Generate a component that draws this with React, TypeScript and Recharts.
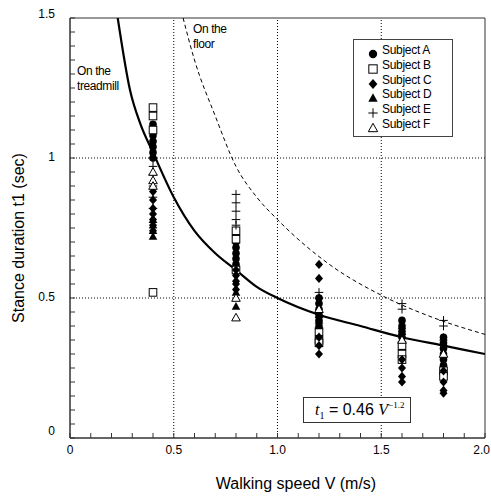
import React from 'react';
import { ComposedChart, XAxis, YAxis, Scatter, Line, ReferenceLine, ReferenceArea, Legend } from 'recharts';

const subjectNames = ['Subject A', 'Subject B', 'Subject C', 'Subject D', 'Subject E', 'Subject F'];
const markerKinds = ['circle', 'square', 'diamond', 'triangle', 'cross', 'triangleOpen'];

// [walking speed V (m/s), stance duration t1 (sec)]
const subjectA: [number, number][] = [
  [0.4, 1.12], [0.4, 1.1], [0.4, 1.08], [0.4, 1.06], [0.4, 1.04], [0.4, 1.02], [0.4, 1.0],
  [0.8, 0.72], [0.8, 0.7], [0.8, 0.68], [0.8, 0.66], [0.8, 0.64], [0.8, 0.62],
  [1.2, 0.5], [1.2, 0.48], [1.2, 0.46], [1.2, 0.44], [1.2, 0.42], [1.2, 0.4],
  [1.6, 0.42], [1.6, 0.4], [1.6, 0.38], [1.6, 0.36], [1.6, 0.34], [1.6, 0.32],
  [1.8, 0.36], [1.8, 0.34], [1.8, 0.32], [1.8, 0.3], [1.8, 0.28], [1.8, 0.26],
];
const subjectB: [number, number][] = [
  [0.4, 1.18], [0.4, 1.15], [0.4, 1.1], [0.4, 0.52],
  [0.8, 0.74], [0.8, 0.71], [0.8, 0.6],
  [1.2, 0.38], [1.2, 0.35], [1.2, 0.34],
  [1.6, 0.33], [1.6, 0.3], [1.6, 0.28],
  [1.8, 0.24], [1.8, 0.22],
];
const subjectC: [number, number][] = [
  [0.4, 0.88], [0.4, 0.85], [0.4, 0.82], [0.4, 0.8], [0.4, 0.78], [0.4, 0.76], [0.4, 0.74],
  [0.8, 0.6], [0.8, 0.58], [0.8, 0.56], [0.8, 0.55], [0.8, 0.53],
  [1.2, 0.62], [1.2, 0.57], [1.2, 0.36], [1.2, 0.33], [1.2, 0.3],
  [1.6, 0.28], [1.6, 0.25], [1.6, 0.22], [1.6, 0.2],
  [1.8, 0.24], [1.8, 0.2], [1.8, 0.17], [1.8, 0.16],
];
const subjectD: [number, number][] = [
  [0.4, 0.78], [0.4, 0.76], [0.4, 0.74], [0.4, 0.72],
  [0.8, 0.52], [0.8, 0.47],
  [1.2, 0.44], [1.2, 0.42], [1.2, 0.4],
  [1.6, 0.4], [1.6, 0.38],
  [1.8, 0.36], [1.8, 0.34],
];
const subjectE: [number, number][] = [
  [0.4, 1.0], [0.4, 0.97], [0.4, 0.94], [0.4, 0.9], [0.4, 0.86], [0.4, 0.82],
  [0.8, 0.87], [0.8, 0.84], [0.8, 0.81], [0.8, 0.78], [0.8, 0.76],
  [1.2, 0.52], [1.2, 0.5],
  [1.6, 0.48], [1.6, 0.46],
  [1.8, 0.42], [1.8, 0.4],
];
const subjectF: [number, number][] = [
  [0.4, 0.95], [0.4, 0.92], [0.4, 0.9],
  [0.8, 0.5], [0.8, 0.43],
  [1.2, 0.46],
  [1.6, 0.35],
  [1.8, 0.3],
];

// curves
const treadmillCurve: [number, number][] = [
  [0.23, 1.5], [0.29, 1.24], [0.34, 1.12], [0.4, 1.02], [0.5, 0.86], [0.6, 0.74], [0.7, 0.66],
  [0.8, 0.6], [0.9, 0.54], [1.0, 0.5], [1.2, 0.44], [1.4, 0.4], [1.6, 0.36], [1.8, 0.33], [2.0, 0.3],
];
const floorCurve: [number, number][] = [
  [0.545, 1.5], [0.6, 1.35], [0.7, 1.15], [0.8, 0.97], [0.9, 0.86], [1.0, 0.78], [1.25, 0.62],
  [1.5, 0.51], [1.75, 0.43], [2.0, 0.37],
];

const xTicks = [0, 0.1, 0.2, 0.3, 0.4, 0.5, 0.6, 0.7, 0.8, 0.9, 1.0, 1.1, 1.2, 1.3, 1.4, 1.5, 1.6, 1.7, 1.8, 1.9, 2.0];
const xTickLabels: Record<string, string> = { '0': '0', '0.5': '0.5', '1': '1.0', '1.5': '1.5', '2': '2.0' };
const yTicks = [0, 0.05, 0.1, 0.15, 0.2, 0.25, 0.3, 0.35, 0.4, 0.45, 0.5, 0.55, 0.6, 0.65, 0.7, 0.75, 0.8, 0.85, 0.9, 0.95, 1.0,
  1.05, 1.1, 1.15, 1.2, 1.25, 1.3, 1.35, 1.4, 1.45, 1.5];
const yTickLabels: Record<string, string> = { '0': '0', '0.5': '0.5', '1': '1', '1.5': '1.5' };
const xGrid = [0.5, 1.0, 1.5];
const yGrid = [0.5, 1.0];

const toPts = (arr: [number, number][]) => arr.map(([v, t]) => ({ v, t }));
const subjectData = [subjectA, subjectB, subjectC, subjectD, subjectE, subjectF].map(toPts);

const FONT = '"Liberation Sans", Arial, sans-serif';

function Marker({ kind, cx, cy, s = 1 }: { kind: string; cx: number; cy: number; s?: number }) {
  const r = 3.8 * s;
  switch (kind) {
    case 'circle':
      return <circle cx={cx} cy={cy} r={r} fill="#000" />;
    case 'square':
      return <rect x={cx - r} y={cy - r} width={2 * r} height={2 * r} fill="#fff" stroke="#000" strokeWidth={1} />;
    case 'diamond':
      return <polygon points={`${cx},${cy - r - 0.8} ${cx + r + 0.2},${cy} ${cx},${cy + r + 0.8} ${cx - r - 0.2},${cy}`} fill="#000" />;
    case 'triangle':
      return <polygon points={`${cx},${cy - r - 0.5} ${cx + r + 0.5},${cy + r - 0.5} ${cx - r - 0.5},${cy + r - 0.5}`} fill="#000" />;
    case 'cross':
      return (
        <g stroke="#000" strokeWidth={1}>
          <line x1={cx - r - 0.5} y1={cy} x2={cx + r + 0.5} y2={cy} />
          <line x1={cx} y1={cy - r - 0.5} x2={cx} y2={cy + r + 0.5} />
        </g>
      );
    default:
      return <polygon points={`${cx},${cy - r - 0.5} ${cx + r + 0.5},${cy + r - 0.5} ${cx - r - 0.5},${cy + r - 0.5}`} fill="#fff" stroke="#000" strokeWidth={1} />;
  }
}

const XTick = (props: any) => {
  const { x, payload } = props;
  const key = String(payload.value);
  if (!(key in xTickLabels)) return <g />;
  const isLast = key === '2';
  return (
    <text
      x={isLast ? 490 : x}
      y={450}
      textAnchor={isLast ? 'end' : 'middle'}
      dominantBaseline="central"
      fontSize={12}
      fontFamily={FONT}
      fill="#000"
    >
      {xTickLabels[key]}
    </text>
  );
};

const YTick = (props: any) => {
  const { y, payload } = props;
  const key = String(payload.value);
  if (!(key in yTickLabels)) return <g />;
  const dy = key === '0' ? -7 : key === '1.5' ? -4 : -1;
  return (
    <text x={55} y={y + dy} textAnchor="end" dominantBaseline="central" fontSize={12} fontFamily={FONT} fill="#000">
      {yTickLabels[key]}
    </text>
  );
};

const LegendBox = () => (
  <div
    style={{
      width: 98,
      height: 96,
      border: '1px solid #444',
      background: '#fff',
      boxSizing: 'content-box',
      position: 'relative',
    }}
  >
    {subjectNames.map((name, i) => (
      <div key={name} style={{ position: 'absolute', left: 0, top: 3 + i * 14.8, height: 15, width: 98 }}>
        <svg width={20} height={16} style={{ position: 'absolute', left: 10, top: 2 }}>
          <Marker kind={markerKinds[i]} cx={9} cy={9} s={1.1} />
        </svg>
        <span
          style={{
            position: 'absolute',
            left: 28,
            top: 0,
            fontFamily: FONT,
            fontSize: 12,
            lineHeight: '14px',
            color: '#000',
            whiteSpace: 'nowrap',
            letterSpacing: -0.3,
          }}
        >
          {name}
        </span>
      </div>
    ))}
  </div>
);

export default function App() {
  return (
    <div style={{ position: 'absolute', left: 0, top: 0, width: 491, height: 496, background: '#fff' }}>
      <ComposedChart width={491} height={496} margin={{ top: 18, right: 6, bottom: 0, left: 0 }}>
        <XAxis
          type="number"
          dataKey="v"
          domain={[0, 2]}
          ticks={xTicks}
          interval={0}
          height={58}
          tickSize={-5}
          tick={<XTick />}
          tickLine={{ stroke: '#333' }}
          axisLine={{ stroke: '#333' }}
          allowDataOverflow
          label={{
            content: () => (
              <text x={296} y={489} textAnchor="middle" fontSize={16} fontFamily={FONT} fill="#000">
                Walking speed V (m/s)
              </text>
            ),
          }}
        />
        <YAxis
          type="number"
          dataKey="t"
          domain={[0, 1.5]}
          ticks={yTicks}
          interval={0}
          width={70}
          tickSize={-5}
          tick={<YTick />}
          tickLine={{ stroke: '#333' }}
          axisLine={{ stroke: '#333' }}
          allowDataOverflow
          label={{
            content: () => (
              <text
                x={18}
                y={238}
                transform="rotate(-90 18 238)"
                textAnchor="middle"
                dominantBaseline="central"
                fontSize={16}
                fontFamily={FONT}
                fill="#000"
              >
                Stance duration t1 (sec)
              </text>
            ),
          }}
        />
        <ReferenceArea x1={0} x2={2} y1={0} y2={1.5} fill="none" stroke="#333" strokeWidth={1} ifOverflow="visible" />
        {xGrid.map((g) => (
          <ReferenceLine key={'x' + g} x={g} stroke="#000" strokeDasharray="1 2" strokeWidth={1} />
        ))}
        {yGrid.map((g) => (
          <ReferenceLine key={'y' + g} y={g} stroke="#000" strokeDasharray="1 2" strokeWidth={1} />
        ))}
        <Line
          data={toPts(floorCurve)}
          dataKey="t"
          type="monotone"
          stroke="#000"
          strokeWidth={1}
          strokeDasharray="4 3"
          dot={false}
          activeDot={false}
          legendType="none"
          isAnimationActive={false}
        />
        <Line
          data={toPts(treadmillCurve)}
          dataKey="t"
          type="monotone"
          stroke="#000"
          strokeWidth={2.2}
          dot={false}
          activeDot={false}
          legendType="none"
          isAnimationActive={false}
        />
        {subjectData.map((d, i) => (
          <Scatter
            key={subjectNames[i]}
            name={subjectNames[i]}
            data={d}
            dataKey="t"
            isAnimationActive={false}
            shape={(p: any) => <Marker kind={markerKinds[i]} cx={p.cx} cy={p.cy} />}
          />
        ))}
        <Legend
          layout="vertical"
          align="center"
          verticalAlign="middle"
          content={() => <LegendBox />}
          wrapperStyle={{ position: 'absolute', left: 353, top: 39, width: 100, height: 98 }}
        />
      </ComposedChart>

      <div style={{ position: 'absolute', left: 77, top: 64, fontFamily: FONT, fontSize: 12, lineHeight: '15px', letterSpacing: -0.4, color: '#000' }}>
        On the
        <br />
        treadmill
      </div>
      <div style={{ position: 'absolute', left: 193, top: 22, fontFamily: FONT, fontSize: 12, lineHeight: '15px', letterSpacing: -0.4, color: '#000' }}>
        On the
        <br />
        floor
      </div>
      <div
        style={{
          position: 'absolute',
          left: 303,
          top: 397,
          width: 106,
          height: 24,
          border: '1px solid #333',
          background: '#fff',
          whiteSpace: 'nowrap',
          color: '#000',
        }}
      >
        <div style={{ position: 'absolute', left: 11, top: 2, fontSize: 16, lineHeight: '20px', fontFamily: '"Liberation Serif", serif' }}>
          <i>t</i>
          <span style={{ fontSize: 10, position: 'relative', top: 4 }}>1</span>
          <span style={{ fontFamily: FONT, fontSize: 16 }}> = 0.46 </span>
          <i>V</i>
          <span style={{ fontSize: 9, position: 'relative', top: -7, fontFamily: '"Liberation Serif", serif' }}>−1.2</span>
        </div>
      </div>
    </div>
  );
}
